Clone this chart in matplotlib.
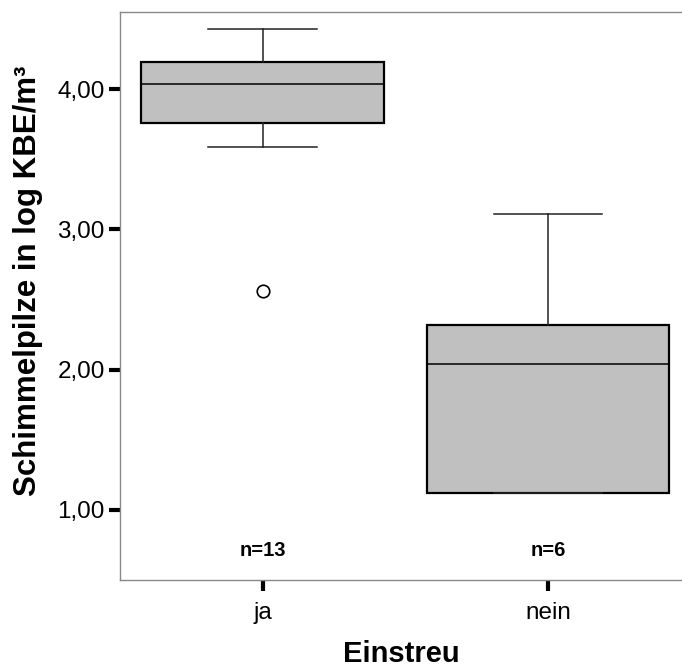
import matplotlib
matplotlib.use('Agg')
import matplotlib.pyplot as plt

# Kennwerte je Gruppe (log KBE/m³)
gruppen = ['ja', 'nein']
n_werte = [13, 6]
median = [4.04, 2.04]
q1 = [3.76, 1.12]
q3 = [4.19, 2.32]
whisker_unten = [3.59, 1.12]
whisker_oben = [4.43, 3.11]
ausreisser = [[2.56], []]

plt.rcParams['font.family'] = ['Liberation Sans', 'DejaVu Sans']

stats = []
for i, g in enumerate(gruppen):
    stats.append({'label': g, 'med': median[i], 'q1': q1[i], 'q3': q3[i],
                  'whislo': whisker_unten[i], 'whishi': whisker_oben[i],
                  'fliers': ausreisser[i]})

fig = plt.figure(figsize=(6.82, 6.70), dpi=100)
ax = fig.add_axes([120 / 682, 1 - 580 / 670, 562 / 682, 568 / 670])

ax.bxp(stats, positions=range(len(gruppen)), widths=0.85, patch_artist=True,
       boxprops=dict(facecolor='#c0c0c0', edgecolor='black', linewidth=1.6),
       medianprops=dict(color='black', linewidth=1.1),
       whiskerprops=dict(color='#222222', linewidth=1.1),
       capprops=dict(color='#222222', linewidth=1.1),
       capwidths=0.38,
       flierprops=dict(marker='o', markersize=9, markerfacecolor='white',
                       markeredgecolor='black', markeredgewidth=1.2))

for i, n in enumerate(n_werte):
    ax.text(i, 0.712, f'n={n}', ha='center', va='center',
            fontsize=14.5, fontweight='bold')

ax.set_xlim(-0.5, 1.47)
ax.set_ylim(0.5, 4.55)
ax.set_yticks([1, 2, 3, 4])
ax.set_yticklabels(['1,00', '2,00', '3,00', '4,00'])
ax.set_xticks(range(len(gruppen)))
ax.set_xticklabels(gruppen)
ax.tick_params(axis='both', length=8, width=3, color='black',
               labelsize=17.5, pad=3)
ax.tick_params(axis='x', pad=8)

for s in ['left', 'bottom', 'top']:
    ax.spines[s].set_color('#888888')
    ax.spines[s].set_linewidth(1.0)
ax.spines['right'].set_visible(False)

ax.set_ylabel('Schimmelpilze in log KBE/m³', fontsize=22.5, fontweight='bold')
ax.yaxis.set_label_coords(-0.137, 0.526)
ax.set_xlabel('Einstreu', fontsize=21, fontweight='bold', labelpad=11)

fig.savefig('out.png', dpi=100)
